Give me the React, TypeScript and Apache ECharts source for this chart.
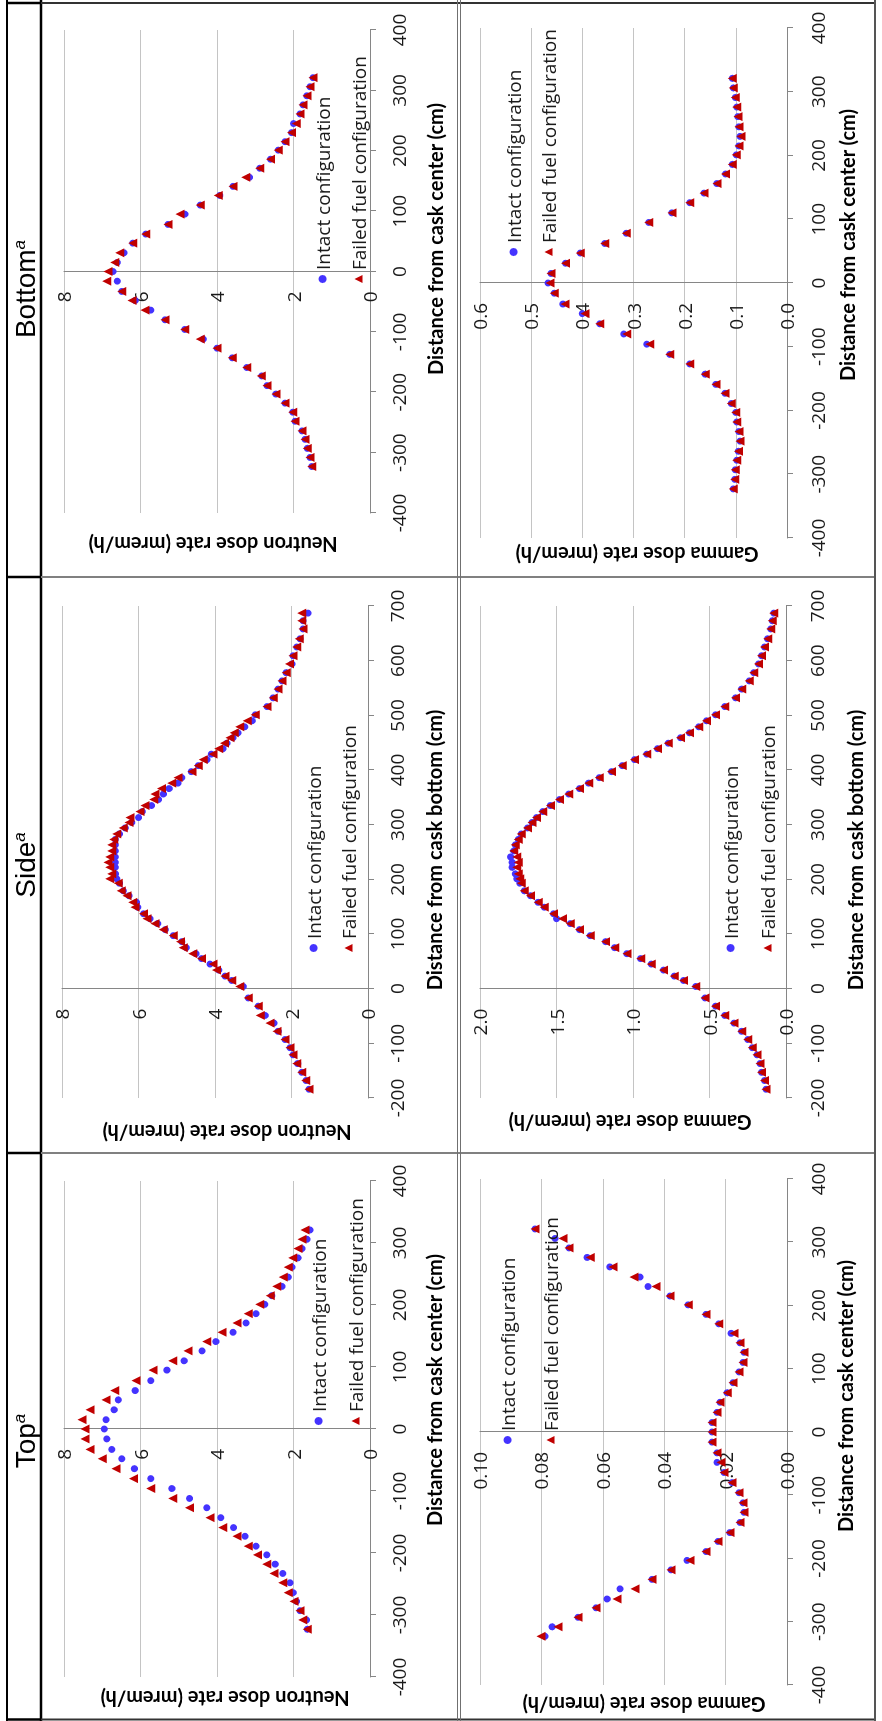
import { useEffect, useRef } from 'react';
import * as echarts from 'echarts';

const INTACT = 'Intact configuration';
const FAILED = 'Failed fuel configuration';

// Distances (cm) for the Top and Bottom scans (from cask center)
const endDistance = [-323, -308, -293, -278, -264, -248, -233, -218, -203, -189, -173, -159, -143, -127, -112, -96, -80, -64, -48, -33, -16, 0, 15, 31, 47, 62, 78, 95, 110, 126, 141, 156, 171, 186, 201, 215, 230, 245, 261, 276, 291, 306, 321];
// Distances (cm) for the Side scan (from cask bottom)
const sideDistance = [-201, -184, -168, -153, -137, -121, -108, -93, -78, -63, -49, -32, -17, 4, 15, 23, 34, 45, 55, 64, 75, 86, 97, 108, 119, 128, 137, 149, 158, 170, 179, 193, 201, 210, 222, 231, 241, 252, 263, 273, 283, 294, 304, 313, 324, 335, 346, 356, 366, 376, 386, 397, 408, 419, 429, 439, 449, 459, 468, 479, 490, 501, 516, 532, 548, 563, 578, 594, 609, 625, 640, 658, 673, 687];

// Top — neutron (mrem/h)
const topNeutronIntact = [1.64, 1.66, 1.83, 1.92, 2.01, 2.09, 2.28, 2.48, 2.70, 2.98, 3.27, 3.57, 3.90, 4.27, 4.72, 5.18, 5.73, 6.16, 6.49, 6.75, 6.88, 6.95, 6.90, 6.69, 6.58, 6.14, 5.73, 5.31, 4.86, 4.39, 4.03, 3.58, 3.24, 2.98, 2.75, 2.57, 2.30, 2.14, 2.04, 1.88, 1.78, 1.65, 1.57];
const topNeutronFailed = [1.64, 1.76, 1.83, 1.99, 2.14, 2.28, 2.51, 2.70, 2.94, 3.18, 3.48, 3.85, 4.18, 4.72, 5.16, 5.73, 6.18, 6.64, 7.00, 7.32, 7.45, 7.45, 7.53, 7.32, 6.90, 6.67, 6.12, 5.67, 5.16, 4.76, 4.27, 3.87, 3.48, 3.18, 2.88, 2.61, 2.44, 2.27, 2.14, 2.02, 1.88, 1.78, 1.70];
// Top — gamma (mrem/h)
const topGammaIntact = [0.0788, 0.0765, 0.0681, 0.0622, 0.0586, 0.0544, 0.0440, 0.0378, 0.0326, 0.0264, 0.0225, 0.0186, 0.0153, 0.0140, 0.0143, 0.0156, 0.0179, 0.0205, 0.0228, 0.0228, 0.0244, 0.0244, 0.0244, 0.0228, 0.0218, 0.0195, 0.0176, 0.0156, 0.0143, 0.0140, 0.0153, 0.0182, 0.0222, 0.0264, 0.0322, 0.0381, 0.0453, 0.0479, 0.0577, 0.0651, 0.0710, 0.0756, 0.0821];
const topGammaFailed = [0.0801, 0.0746, 0.0681, 0.0622, 0.0554, 0.0495, 0.0440, 0.0378, 0.0316, 0.0264, 0.0225, 0.0186, 0.0153, 0.0140, 0.0143, 0.0156, 0.0179, 0.0205, 0.0215, 0.0228, 0.0244, 0.0244, 0.0244, 0.0228, 0.0218, 0.0195, 0.0176, 0.0156, 0.0143, 0.0140, 0.0153, 0.0173, 0.0222, 0.0264, 0.0322, 0.0381, 0.0427, 0.0498, 0.0567, 0.0641, 0.0710, 0.0730, 0.0821];

// Side — neutron (mrem/h)
const sideNeutronIntact = [1.46, 1.54, 1.62, 1.73, 1.84, 1.96, 2.04, 2.17, 2.35, 2.46, 2.69, 2.87, 3.13, 3.26, 3.56, 3.74, 3.90, 4.13, 4.35, 4.50, 4.75, 4.87, 5.09, 5.30, 5.50, 5.70, 5.87, 6.02, 6.05, 6.25, 6.40, 6.50, 6.57, 6.60, 6.61, 6.61, 6.61, 6.61, 6.61, 6.61, 6.50, 6.35, 6.18, 6.00, 5.90, 5.66, 5.48, 5.35, 5.20, 4.97, 4.87, 4.62, 4.44, 4.21, 4.10, 3.79, 3.69, 3.53, 3.40, 3.22, 3.03, 2.95, 2.64, 2.48, 2.35, 2.25, 2.14, 1.99, 1.96, 1.86, 1.78, 1.70, 1.70, 1.57];
const sideNeutronFailed = [1.46, 1.54, 1.63, 1.73, 1.86, 1.96, 2.04, 2.17, 2.38, 2.56, 2.82, 2.87, 3.13, 3.35, 3.56, 3.74, 3.96, 4.05, 4.35, 4.58, 4.83, 4.90, 5.09, 5.35, 5.57, 5.78, 5.87, 6.09, 6.15, 6.30, 6.45, 6.53, 6.75, 6.70, 6.75, 6.80, 6.75, 6.70, 6.70, 6.65, 6.57, 6.40, 6.25, 6.22, 5.96, 5.83, 5.60, 5.57, 5.40, 5.13, 4.97, 4.60, 4.44, 4.31, 4.05, 3.90, 3.75, 3.61, 3.50, 3.35, 3.16, 2.95, 2.64, 2.48, 2.35, 2.25, 2.14, 2.05, 1.96, 1.86, 1.80, 1.70, 1.73, 1.73];
// Side — gamma (mrem/h)
const sideGammaIntact = [0.11, 0.13, 0.14, 0.16, 0.17, 0.19, 0.22, 0.25, 0.29, 0.34, 0.40, 0.46, 0.53, 0.59, 0.67, 0.73, 0.80, 0.88, 0.95, 1.04, 1.12, 1.18, 1.28, 1.35, 1.41, 1.50, 1.52, 1.58, 1.62, 1.67, 1.71, 1.74, 1.76, 1.77, 1.79, 1.79, 1.80, 1.78, 1.77, 1.75, 1.73, 1.69, 1.66, 1.63, 1.59, 1.54, 1.48, 1.42, 1.35, 1.29, 1.22, 1.14, 1.07, 0.99, 0.91, 0.84, 0.77, 0.69, 0.63, 0.57, 0.52, 0.46, 0.40, 0.33, 0.29, 0.24, 0.21, 0.18, 0.16, 0.14, 0.12, 0.10, 0.09, 0.08];
const sideGammaFailed = [0.11, 0.13, 0.14, 0.16, 0.17, 0.19, 0.22, 0.25, 0.29, 0.34, 0.40, 0.46, 0.53, 0.59, 0.67, 0.73, 0.80, 0.88, 0.95, 1.04, 1.12, 1.18, 1.28, 1.35, 1.41, 1.46, 1.52, 1.58, 1.62, 1.67, 1.71, 1.73, 1.74, 1.75, 1.76, 1.75, 1.76, 1.78, 1.77, 1.75, 1.73, 1.69, 1.66, 1.63, 1.59, 1.54, 1.48, 1.42, 1.35, 1.29, 1.22, 1.14, 1.07, 0.99, 0.91, 0.84, 0.77, 0.69, 0.63, 0.57, 0.52, 0.46, 0.40, 0.33, 0.29, 0.24, 0.21, 0.18, 0.16, 0.14, 0.12, 0.10, 0.09, 0.08];

// Bottom — neutron (mrem/h)
const bottomNeutronIntact = [1.52, 1.57, 1.64, 1.70, 1.78, 1.96, 2.02, 2.22, 2.46, 2.69, 2.83, 3.22, 3.60, 4.00, 4.36, 4.84, 5.36, 5.73, 6.14, 6.49, 6.61, 6.72, 6.61, 6.43, 6.20, 5.86, 5.28, 4.84, 4.44, 3.93, 3.58, 3.15, 2.88, 2.60, 2.40, 2.22, 2.05, 2.00, 1.83, 1.75, 1.65, 1.57, 1.49];
const bottomNeutronFailed = [1.52, 1.57, 1.64, 1.70, 1.78, 1.96, 2.02, 2.22, 2.46, 2.69, 2.84, 3.22, 3.60, 4.00, 4.44, 4.84, 5.36, 5.88, 6.22, 6.49, 6.88, 6.85, 6.67, 6.54, 6.20, 5.86, 5.28, 4.97, 4.44, 3.97, 3.58, 3.25, 2.88, 2.60, 2.40, 2.22, 2.05, 1.93, 1.83, 1.75, 1.65, 1.57, 1.49];
// Bottom — gamma (mrem/h)
const bottomGammaIntact = [0.105, 0.102, 0.101, 0.098, 0.095, 0.092, 0.094, 0.098, 0.100, 0.109, 0.121, 0.139, 0.160, 0.190, 0.229, 0.274, 0.319, 0.366, 0.400, 0.438, 0.455, 0.467, 0.461, 0.433, 0.404, 0.356, 0.314, 0.270, 0.225, 0.190, 0.162, 0.137, 0.120, 0.107, 0.099, 0.094, 0.092, 0.094, 0.096, 0.098, 0.101, 0.105, 0.107];
const bottomGammaFailed = [0.105, 0.102, 0.101, 0.098, 0.095, 0.092, 0.094, 0.098, 0.100, 0.109, 0.121, 0.139, 0.160, 0.190, 0.229, 0.268, 0.313, 0.366, 0.395, 0.434, 0.455, 0.463, 0.461, 0.433, 0.404, 0.356, 0.314, 0.270, 0.225, 0.190, 0.162, 0.137, 0.120, 0.107, 0.099, 0.094, 0.090, 0.094, 0.096, 0.098, 0.101, 0.105, 0.107];

const headers = ['Top', 'Side', 'Bottom'];
const xTitleCenter = 'Distance from cask center (cm)';
const xTitleBottom = 'Distance from cask bottom (cm)';
const yTitleNeutron = 'Neutron dose rate (mrem/h)';
const yTitleGamma = 'Gamma dose rate (mrem/h)';

const W = 1721;
const H = 882;
const BLUE = '#4433ff';
const RED = '#c00000';
const AXIS = '#868686';
const GRIDC = '#c4c4c4';
const LABEL = '#1a1a1a';
const FONT = 'Open Sans';
const TITLE_FONT = 'Lato';

type Panel = {
  grid: { left: number; top: number; width: number; height: number };
  xMin: number; xMax: number; yMax: number; yInt: number; dec: number;
  dist: number[]; intact: number[]; failed: number[];
  legend: { left: number; top: number; gap: number };
  xLabelMargin: number;
  xTitle: string; xTitlePos: [number, number];
  yTitle: string; yTitlePos: [number, number];
};

const panels: Panel[] = [
  { grid: { left: 44, top: 64, width: 496, height: 306 }, xMin: -400, xMax: 400, yMax: 8, yInt: 2, dec: 0,
    dist: endDistance, intact: topNeutronIntact, failed: topNeutronFailed,
    legend: { left: 296, top: 309, gap: 18 }, xLabelMargin: 19,
    xTitle: xTitleCenter, xTitlePos: [331, 434], yTitle: yTitleNeutron, yTitlePos: [22, 225] },
  { grid: { left: 623, top: 62, width: 492, height: 306 }, xMin: -200, xMax: 700, yMax: 8, yInt: 2, dec: 0,
    dist: sideDistance, intact: sideNeutronIntact, failed: sideNeutronFailed,
    legend: { left: 769, top: 304, gap: 16 }, xLabelMargin: 19,
    xTitle: xTitleBottom, xTitlePos: [871, 434], yTitle: yTitleNeutron, yTitlePos: [588, 227] },
  { grid: { left: 1208, top: 64, width: 483, height: 306 }, xMin: -400, xMax: 400, yMax: 8, yInt: 2, dec: 0,
    dist: endDistance, intact: bottomNeutronIntact, failed: bottomNeutronFailed,
    legend: { left: 1438, top: 313, gap: 17 }, xLabelMargin: 19,
    xTitle: xTitleCenter, xTitlePos: [1482, 435], yTitle: yTitleNeutron, yTitlePos: [1176, 213] },
  { grid: { left: 36, top: 480, width: 506, height: 307 }, xMin: -400, xMax: 400, yMax: 0.1, yInt: 0.02, dec: 2,
    dist: endDistance, intact: topGammaIntact, failed: topGammaFailed,
    legend: { left: 277, top: 498, gap: 24 }, xLabelMargin: 21,
    xTitle: xTitleCenter, xTitlePos: [325, 845], yTitle: yTitleGamma, yTitlePos: [16, 644] },
  { grid: { left: 623, top: 480, width: 492, height: 306 }, xMin: -200, xMax: 700, yMax: 2, yInt: 0.5, dec: 1,
    dist: sideDistance, intact: sideGammaIntact, failed: sideGammaFailed,
    legend: { left: 769, top: 721, gap: 18 }, xLabelMargin: 21,
    xTitle: xTitleBottom, xTitlePos: [871, 855], yTitle: yTitleGamma, yTitlePos: [598, 630] },
  { grid: { left: 1183, top: 480, width: 510, height: 307 }, xMin: -400, xMax: 400, yMax: 0.6, yInt: 0.1, dec: 1,
    dist: endDistance, intact: bottomGammaIntact, failed: bottomGammaFailed,
    legend: { left: 1465, top: 504, gap: 16 }, xLabelMargin: 21,
    xTitle: xTitleCenter, xTitlePos: [1476, 847], yTitle: yTitleGamma, yTitlePos: [1166, 637] },
];

const headerCenters = [280, 856, 1432];

function buildOption() {
  const grid: any[] = [];
  const xAxis: any[] = [];
  const yAxis: any[] = [];
  const series: any[] = [];
  const legend: any[] = [];
  const graphic: any[] = [];

  panels.forEach((p, i) => {
    grid.push({ ...p.grid, containLabel: false, outerBoundsMode: 'none' });
    xAxis.push({
      gridIndex: i, type: 'value', min: p.xMin, max: p.xMax, interval: 100, position: 'bottom',
      axisLine: { show: true, onZero: false, lineStyle: { color: AXIS, width: 1 } },
      axisTick: { show: true, inside: false, length: 6, lineStyle: { color: AXIS } },
      axisLabel: { margin: p.xLabelMargin, fontFamily: FONT, fontSize: 19, color: LABEL, showMinLabel: true, showMaxLabel: true },
      splitLine: { show: false },
    });
    // the value axis crosses the distance axis at distance 0
    const zeroOffset = ((0 - p.xMin) / (p.xMax - p.xMin)) * p.grid.width;
    yAxis.push({
      gridIndex: i, type: 'value', min: 0, max: p.yMax, interval: p.yInt, position: 'left',
      offset: -zeroOffset,
      axisLine: { show: true, onZero: false, lineStyle: { color: AXIS, width: 1 } },
      axisTick: { show: false },
      axisLabel: { margin: 20, fontFamily: FONT, fontSize: 19, color: LABEL, formatter: (v: number) => v.toFixed(p.dec) },
      splitLine: { show: true, lineStyle: { color: GRIDC, width: 1 } },
    });
    series.push({
      type: 'scatter', name: INTACT, xAxisIndex: i, yAxisIndex: i, symbol: 'circle', symbolSize: 7,
      itemStyle: { color: BLUE, opacity: 1 }, z: 2,
      data: p.dist.map((d, k) => [d, p.intact[k]]),
    });
    series.push({
      type: 'scatter', name: FAILED, xAxisIndex: i, yAxisIndex: i, symbol: 'triangle', symbolSize: 9,
      itemStyle: { color: RED, opacity: 1 }, z: 3,
      data: p.dist.map((d, k) => [d, p.failed[k]]),
    });
    legend.push({
      orient: 'vertical', left: p.legend.left, top: p.legend.top, itemGap: p.legend.gap,
      itemWidth: 8, itemHeight: 8, padding: 0, selectedMode: false,
      data: [INTACT, FAILED],
      textStyle: { fontFamily: FONT, fontSize: 19, color: LABEL },
    });
    graphic.push({
      type: 'text', x: p.xTitlePos[0], y: p.xTitlePos[1], silent: true,
      style: { text: p.xTitle, fontFamily: TITLE_FONT, fontWeight: 'bold', fontSize: 20, fill: '#000', align: 'center', verticalAlign: 'middle' },
    });
    graphic.push({
      type: 'text', x: p.yTitlePos[0], y: p.yTitlePos[1], rotation: Math.PI / 2, silent: true,
      style: { text: p.yTitle, fontFamily: TITLE_FONT, fontWeight: 'bold', fontSize: 20, fill: '#000', align: 'center', verticalAlign: 'middle' },
    });
  });

  headers.forEach((h, i) => {
    graphic.push({
      type: 'text', x: headerCenters[i], y: 25, silent: true,
      style: {
        text: `{n|${h}}{s|a}`, align: 'center', verticalAlign: 'middle',
        rich: {
          n: { fontFamily: 'Liberation Sans', fontSize: 28, fill: '#000' },
          s: { fontFamily: 'Liberation Sans', fontSize: 17, fontStyle: 'italic', fill: '#000', verticalAlign: 'top' },
        },
      },
    });
  });

  const line = (x1: number, y1: number, x2: number, y2: number, stroke: string, lw: number) => ({
    type: 'line', silent: true, z: 10, shape: { x1, y1, x2, y2 }, style: { stroke, lineWidth: lw },
  });
  const colX = [1.5, 568, 1144, 1718];
  // header strip lines (black)
  graphic.push(line(0, 7, W, 7, '#000', 2));
  graphic.push(line(0, 41, W, 41, '#000', 2.5));
  colX.forEach((x) => graphic.push(line(x, 7, x, 41, '#000', 2.5)));
  // body lines (grey)
  colX.forEach((x, k) => graphic.push(line(x, 41, x, 875, k === 0 || k === 3 ? '#333' : '#808080', 2)));
  graphic.push(line(0, 457.5, W, 457.5, '#707070', 1));
  graphic.push(line(0, 460.5, W, 460.5, '#707070', 1));
  graphic.push(line(0, 875, W, 875, '#555', 2));

  return {
    animation: false,
    backgroundColor: '#ffffff',
    textStyle: { fontFamily: FONT },
    grid, xAxis, yAxis, series, legend, graphic,
  };
}

export default function App() {
  const ref = useRef<HTMLDivElement>(null);
  useEffect(() => {
    if (!ref.current) return;
    document.body.style.overflow = 'hidden';
    const chart = echarts.init(ref.current, null, { renderer: 'svg', width: W, height: H });
    chart.setOption(buildOption() as any);
    return () => chart.dispose();
  }, []);
  return (
    <div
      style={{
        position: 'fixed', left: 0, top: 0, width: W, height: H,
        transformOrigin: '0 0', transform: `translateY(${W}px) rotate(-90deg)`, background: '#fff',
      }}
    >
      <div ref={ref} style={{ width: W, height: H }} />
    </div>
  );
}
